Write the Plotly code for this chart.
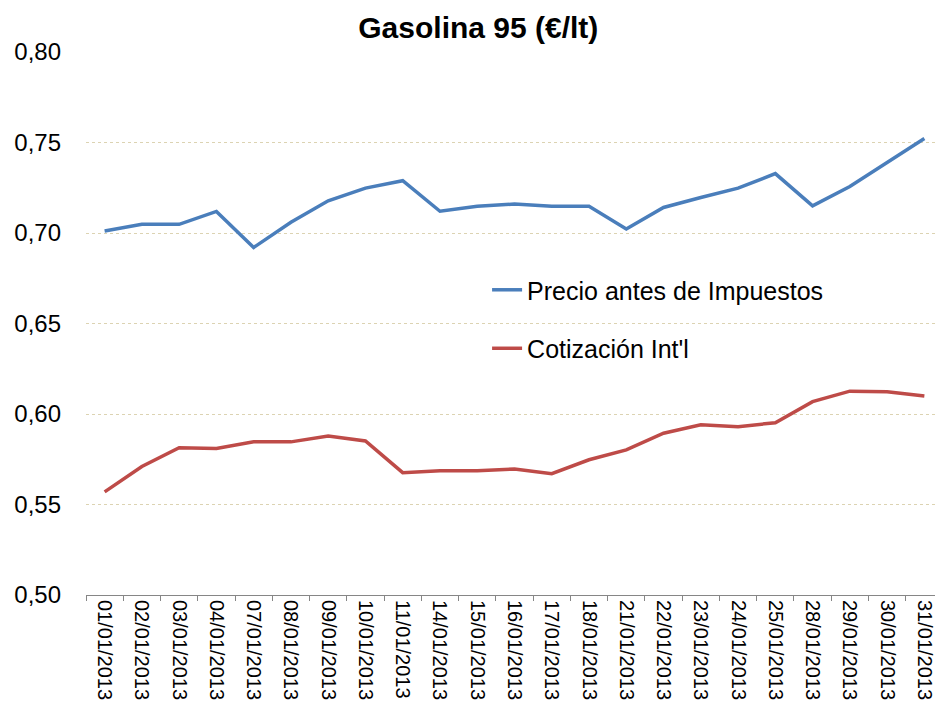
import plotly.graph_objects as go

dates = ["01/01/2013", "02/01/2013", "03/01/2013", "04/01/2013", "07/01/2013",
         "08/01/2013", "09/01/2013", "10/01/2013", "11/01/2013", "14/01/2013",
         "15/01/2013", "16/01/2013", "17/01/2013", "18/01/2013", "21/01/2013",
         "22/01/2013", "23/01/2013", "24/01/2013", "25/01/2013", "28/01/2013",
         "29/01/2013", "30/01/2013", "31/01/2013"]

precio_antes_impuestos = [0.7011, 0.7048, 0.7048, 0.7119, 0.6920, 0.7059, 0.7178,
                          0.7248, 0.7289, 0.7120, 0.7148, 0.7160, 0.7148, 0.7148,
                          0.7022, 0.7141, 0.7196, 0.7248, 0.7328, 0.7150, 0.7257,
                          0.7389, 0.7522]

cotizacion_intl = [0.5570, 0.5710, 0.5814, 0.5809, 0.5846, 0.5846, 0.5879, 0.5851,
                   0.5676, 0.5686, 0.5686, 0.5696, 0.5670, 0.5747, 0.5802, 0.5894,
                   0.5940, 0.5930, 0.5952, 0.6068, 0.6126, 0.6123, 0.6100]

fig = go.Figure()
fig.add_trace(go.Scatter(x=dates, y=precio_antes_impuestos, mode="lines",
                         name="Precio antes de Impuestos", legendgroup="a",
                         line=dict(color="#4A7EBB", width=3.5)))
fig.add_trace(go.Scatter(x=dates, y=cotizacion_intl, mode="lines",
                         name="Cotización Int'l", legendgroup="b",
                         line=dict(color="#BE4B48", width=3.5)))

fig.update_layout(
    width=935, height=703,
    margin=dict(l=78, r=0, t=44, b=116, autoexpand=False),
    paper_bgcolor="white", plot_bgcolor="white",
    separators=",.",
    font=dict(family="Liberation Sans, Arial, sans-serif", color="black"),
    title=dict(text="<b>Gasolina 95 (€/lt)</b>", x=0.503, xanchor="center",
               y=0.972, yanchor="middle",
               font=dict(size=30, family="Liberation Sans, Arial, sans-serif")),
    showlegend=True,
    legend=dict(x=0.468, y=0.604, xanchor="left", yanchor="top",
                font=dict(size=25), tracegroupgap=23,
                bgcolor="rgba(0,0,0,0)"),
    xaxis=dict(type="category", range=[-0.5, 22.5], showgrid=False,
               showline=True, linecolor="#868686", linewidth=1,
               ticks="outside", tickson="boundaries", ticklen=5,
               tickcolor="#868686", tickangle=90,
               tickfont=dict(size=20), automargin=False),
    yaxis=dict(range=[0.5, 0.8], dtick=0.05, tickformat=".2f",
               showgrid=True, gridcolor="#DCD3B2", griddash="dot", gridwidth=1,
               zeroline=False, showline=False, ticks="",
               ticklabelstandoff=24,
               tickfont=dict(size=24), automargin=False),
)

fig.write_html("out.html")
